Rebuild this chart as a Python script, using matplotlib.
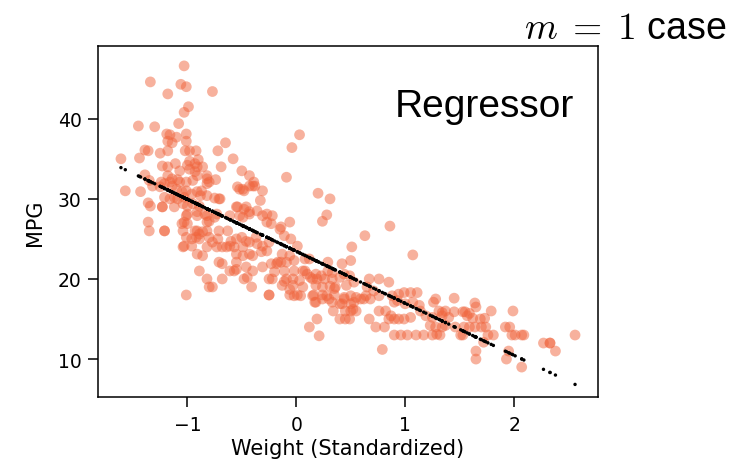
import numpy as np
import matplotlib
matplotlib.use('Agg')
from matplotlib import pyplot as plt

plt.rcParams['mathtext.fontset'] = 'cm'

# (standardized weight, mpg)
points = [
    # light / high mpg cars
    (-1.03, 46.6), (-1.34, 44.6), (-1.06, 44.3), (-1.01, 44.0), (-1.18, 43.1), (-0.77, 43.4),
    (-0.99, 41.5), (-1.03, 40.8), (-1.45, 39.1), (-1.30, 39.0), (-1.08, 39.4), (-1.19, 38.1),
    (-1.16, 38.0), (-1.14, 37.0), (-1.18, 37.2), (-1.10, 37.7), (-1.01, 38.1), (-1.01, 37.2),
    (-0.65, 37.0), (-1.39, 36.1), (-1.36, 36.0), (-1.25, 35.7), (-1.18, 36.0), (-1.02, 36.0),
    (-0.98, 36.0), (-0.92, 36.0), (-0.72, 36.0), (-1.61, 35.0), (-1.44, 35.1), (-0.58, 35.0),
    (-1.23, 34.1), (-1.18, 34.0), (-1.11, 34.4), (-1.07, 33.5), (-0.98, 34.7), (-0.93, 34.4),
    (-0.91, 34.0), (-0.86, 34.0), (-0.93, 33.4), (-0.98, 33.7), (-0.69, 34.0), (-0.50, 33.5),
    (-0.43, 32.9), (-0.39, 32.1), (-1.39, 33.0), (-1.18, 32.9), (-1.24, 32.1), (-1.16, 32.1),
    (-1.09, 32.4), (-1.01, 32.1), (-0.82, 32.5), (-0.80, 32.1), (-0.74, 32.4), (-0.90, 34.9),
    (-1.00, 34.2), (-1.14, 32.5), (-1.07, 32.1), (-0.95, 32.3), (-0.91, 32.9), (-0.82, 32.9),
    (-1.35, 32.3), (-1.32, 31.6), (-1.21, 31.9), (-1.14, 31.6), (-1.43, 30.9), (-1.57, 31.0),
    # left band
    (-1.36, 29.5), (-1.34, 29.1), (-1.23, 29.0), (-1.23, 29.0), (-1.12, 29.0), (-0.71, 30.0),
    (-0.70, 30.0), (-0.54, 29.0), (-0.48, 28.7), (-0.43, 28.4), (-0.36, 28.5), (-0.33, 29.8),
    (-0.31, 31.0), (-0.52, 31.2), (-0.48, 31.0), (-0.40, 31.6), (-0.22, 27.9), (-1.25, 31.5),
    (-1.10, 31.2), (-1.05, 30.9), (-1.01, 31.0), (-0.96, 30.6), (-0.91, 30.9), (-0.87, 31.0),
    (-0.82, 31.9), (-1.21, 30.2), (-1.16, 30.0), (-1.12, 30.2), (-1.04, 29.4), (-1.00, 29.1),
    (-0.95, 29.4), (-0.89, 29.1), (-1.09, 30.0), (-1.03, 30.2), (-0.88, 30.4), (-0.82, 30.4),
    (-0.75, 30.1), (-0.91, 28.4), (-0.84, 28.1), (-1.00, 28.1), (-1.01, 27.9), (-1.03, 27.1),
    (-1.05, 26.9), (-1.00, 26.9), (-0.91, 27.9), (-0.82, 27.9), (-0.82, 27.1), (-0.80, 27.2),
    (-0.73, 28.1), (-0.75, 27.7), (-0.91, 26.0), (-0.86, 25.9), (-0.82, 26.0), (-0.89, 25.6),
    (-0.93, 26.0), (-1.36, 27.1), (-1.35, 26.0), (-1.21, 26.0), (-1.21, 26.0), (-1.04, 26.0),
    (-1.01, 25.2), (-0.96, 25.0), (-0.92, 25.2), (-0.89, 25.0), (-1.03, 24.1), (-0.96, 24.1),
    (-1.04, 24.0), (-0.91, 23.1), (-0.86, 22.9), (-0.82, 24.0), (-0.80, 25.2), (-0.77, 24.6),
    (-0.71, 26.0), (-0.63, 26.0), (-0.72, 25.0), (-0.68, 24.0), (-0.64, 24.0), (-0.73, 24.0),
    (-0.71, 22.1), (-0.68, 21.9), (-0.89, 21.0), (-0.82, 20.0), (-0.80, 19.0), (-0.77, 19.0),
    (-0.68, 20.0), (-1.01, 18.0), (-0.61, 27.9), (-0.55, 29.0), (-0.52, 27.9), (-0.49, 27.7),
    (-0.46, 29.0), (-0.43, 28.1), (-0.54, 31.5), (-0.49, 31.2), (-0.43, 31.6), (-0.38, 31.6),
    (-0.31, 27.9), (-0.27, 28.1), (-0.27, 27.1), (-0.23, 26.9), (-0.60, 24.7), (-0.55, 25.0),
    (-0.50, 25.2), (-0.46, 24.7), (-0.43, 24.6), (-0.49, 24.0), (-0.57, 24.0), (-0.61, 24.1),
    (-0.55, 23.1), (-0.49, 22.9), (-0.43, 23.1), (-0.40, 22.9), (-0.37, 25.2), (-0.36, 24.4),
    (-0.31, 24.1), (-0.27, 23.5), (-0.32, 23.4), (-0.25, 24.6), (-0.55, 22.1), (-0.57, 21.0),
    (-0.61, 21.0), (-0.55, 21.2), (-0.46, 21.5), (-0.40, 21.0), (-0.45, 20.2), (-0.48, 20.0),
    (-0.41, 19.0), (-0.31, 21.5), (-0.23, 21.9), (-0.20, 20.9), (-0.22, 20.0), (-0.25, 18.0),
    (-0.18, 21.9),
    # middle
    (-0.06, 27.1), (-0.15, 26.2), (0.01, 24.1), (0.08, 22.5), (0.24, 27.2), (0.28, 28.0),
    (0.31, 30.0), (0.20, 30.7), (-0.17, 22.1), (-0.25, 20.0), (-0.11, 19.7), (-0.06, 18.7),
    (-0.02, 17.9), (0.04, 17.9), (-0.25, 18.0), (0.08, 21.0), (0.13, 20.2), (0.19, 20.0),
    (0.26, 20.0), (0.31, 19.1), (0.36, 19.0), (0.28, 17.9), (0.40, 20.2), (0.42, 21.9),
    (0.44, 17.5), (0.45, 16.0), (0.12, 14.0), (0.21, 12.9), (0.19, 15.0), (0.17, 17.1),
    (0.24, 17.5), (0.15, 17.9), (0.34, 16.0), (0.40, 15.0), (0.45, 15.0), (0.40, 16.9),
    (0.03, 38.0), (-0.04, 36.4), (-0.09, 32.7), (-0.14, 26.5), (-0.11, 25.4), (-0.05, 25.0),
    (0.63, 25.4), (0.86, 26.6), (0.51, 24.0), (1.07, 23.0), (-0.13, 23.1), (-0.06, 22.9),
    (-0.02, 22.3), (-0.09, 22.1), (-0.14, 22.1), (0.12, 22.5), (0.29, 22.1), (0.50, 22.3),
    (-0.11, 21.0), (-0.02, 21.0), (0.06, 21.0), (0.10, 20.6), (0.18, 20.6), (0.23, 20.4),
    (0.29, 21.0), (0.33, 20.8), (0.44, 20.6), (0.49, 20.4), (-0.09, 20.0), (-0.03, 20.0),
    (0.03, 19.8), (0.15, 20.0), (0.33, 20.0), (-0.13, 19.2), (-0.03, 19.2), (0.06, 19.0),
    (0.18, 19.2), (0.24, 19.0), (0.35, 18.8), (0.46, 19.2), (0.53, 19.6), (-0.06, 18.0),
    (0.01, 18.0), (0.16, 18.0), (0.24, 18.0), (0.30, 17.5), (0.35, 18.0), (0.18, 17.1),
    (0.33, 17.1), (0.44, 17.7), (0.50, 17.9), (0.55, 17.7), (0.59, 17.5), (0.53, 17.1),
    (0.50, 16.9), (0.42, 16.9), (0.62, 17.5), (0.67, 20.0), (0.76, 20.0), (0.85, 19.6),
    (0.65, 19.0), (0.71, 18.5), (0.76, 17.9), (0.68, 17.5), (0.64, 17.9), (0.55, 16.0),
    (0.50, 16.0), (0.52, 16.2), (0.76, 16.0), (0.82, 16.0), (0.87, 15.4), (0.67, 15.0),
    (0.73, 14.0), (0.81, 14.0), (0.49, 15.0), (0.88, 17.9), (0.94, 18.1), (0.99, 18.3),
    (1.05, 18.3), (0.93, 17.3), (0.90, 17.1), (1.00, 16.9), (1.07, 17.1), (1.11, 18.3),
    (0.85, 15.0), (0.90, 15.0), (0.94, 15.0), (0.99, 15.0), (1.05, 15.2), (1.13, 16.7),
    (1.14, 16.0), (1.19, 15.4), (0.90, 13.0), (0.96, 13.0), (1.02, 13.0), (1.10, 13.0),
    (1.17, 13.0), (1.25, 13.0), (1.29, 13.1), (1.23, 14.2), (1.28, 14.0), (1.34, 14.0),
    (1.37, 14.2), (1.25, 15.2), (1.34, 15.8), (1.37, 16.0), (1.26, 17.1), (1.28, 17.5),
    (0.79, 11.2),
    # heavy cars
    (1.45, 17.6), (1.64, 17.0), (1.65, 16.5), (1.79, 16.0), (1.99, 16.0), (1.45, 15.9),
    (1.53, 15.9), (1.59, 15.7), (1.73, 15.1), (1.62, 15.1), (1.32, 13.0), (1.46, 14.0),
    (1.53, 13.0), (1.59, 14.0), (1.64, 14.0), (1.70, 14.0), (1.74, 14.0), (1.81, 13.0),
    (1.76, 13.0), (1.65, 11.0), (1.65, 10.0), (1.93, 10.0), (1.95, 11.0), (2.07, 9.0),
    (1.96, 14.0), (1.98, 13.0), (2.07, 13.0), (2.09, 13.0), (2.27, 12.0), (2.33, 12.0),
    (2.33, 12.0), (2.38, 11.0), (2.56, 13.0), (1.31, 16.0), (1.55, 15.9), (1.34, 15.4),
    (1.40, 15.2), (1.57, 15.4), (1.69, 15.0), (1.54, 14.0), (1.51, 13.0), (1.92, 14.0),
    (2.01, 13.0), (1.72, 12.1),
]
weight_std = np.array([p[0] for p in points])
mpg = np.array([p[1] for p in points])

# fitted line as it appears in the picture (m = 1, plain linear regressor)
fit_intercept = 23.45
fit_slope = -6.49
mpg_pred = fit_intercept + fit_slope * weight_std

yticks = [10, 20, 30, 40]

fig = plt.figure(figsize=(7.5, 4.64), dpi=100)
ax = fig.add_axes([0.131, 0.142, 0.666, 0.757])

ax.scatter(weight_std, mpg, s=60, color='#f0643c', alpha=0.5, edgecolors='none')
ax.scatter(weight_std, mpg_pred, s=6, color='black', edgecolors='none')

ax.set_yticks(yticks)
ax.set_ylim(5.25, 49.1)
ax.set_xlabel('Weight (Standardized)', fontsize=15, labelpad=3)
ax.set_ylabel('MPG', fontsize=15, labelpad=9)
ax.tick_params(labelsize=13.5, length=7, width=1.1, pad=6)
ax.tick_params(axis='y', pad=5)
for sp in ax.spines.values():
    sp.set_linewidth(1.1)

ax.text(0.953, 0.80, 'Regressor', transform=ax.transAxes, ha='right', va='baseline',
        fontsize=28, family='Liberation Sans')
fig.text(0.969, 0.915, r'$m\;=\;1$ case', ha='right', va='baseline',
         fontsize=27, family='Liberation Sans')

fig.savefig('out.png', dpi=100)
